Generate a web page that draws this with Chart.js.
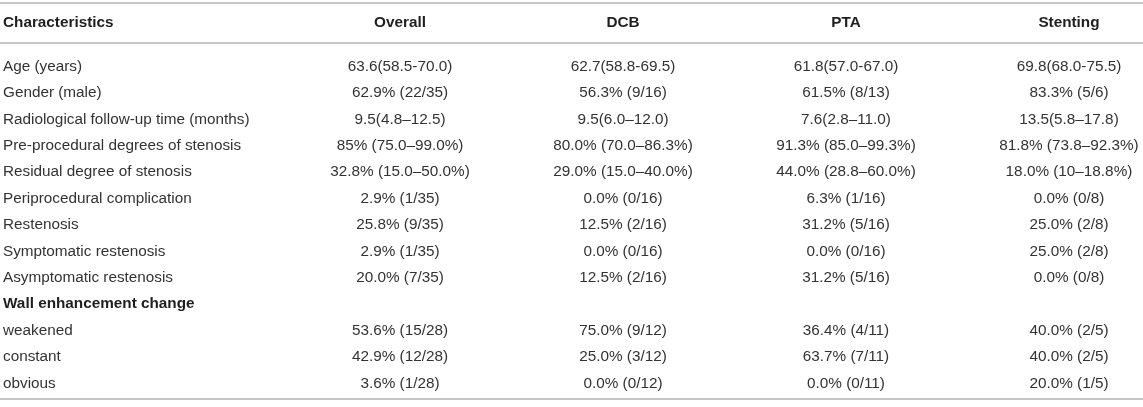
<!DOCTYPE html>
<html lang="en">
<head>
    <meta charset="UTF-8">
    <title>Characteristics table</title>
    <script src="https://cdn.jsdelivr.net/npm/chart.js"></script>
    <style>
        html, body { margin: 0; padding: 0; background: #fff; }
        #wrap { width: 1143px; height: 407px; }
    </style>
</head>
<body>
    <div id="wrap"><canvas id="tableChart"></canvas></div>

    <script>
        // column headers and row labels
        const columns = ['Characteristics', 'Overall', 'DCB', 'PTA', 'Stenting'];
        const rowLabels = [
            'Age (years)',
            'Gender (male)',
            'Radiological follow-up time (months)',
            'Pre-procedural degrees of stenosis',
            'Residual degree of stenosis',
            'Periprocedural complication',
            'Restenosis',
            'Symptomatic restenosis',
            'Asymptomatic restenosis',
            'Wall enhancement change',
            'weakened',
            'constant',
            'obvious'
        ];
        const boldRows = ['Wall enhancement change'];

        // cell values per group
        const overall = ['63.6(58.5-70.0)', '62.9% (22/35)', '9.5(4.8–12.5)', '85% (75.0–99.0%)', '32.8% (15.0–50.0%)',
            '2.9% (1/35)', '25.8% (9/35)', '2.9% (1/35)', '20.0% (7/35)', '', '53.6% (15/28)', '42.9% (12/28)', '3.6% (1/28)'];
        const dcb = ['62.7(58.8-69.5)', '56.3% (9/16)', '9.5(6.0–12.0)', '80.0% (70.0–86.3%)', '29.0% (15.0–40.0%)',
            '0.0% (0/16)', '12.5% (2/16)', '0.0% (0/16)', '12.5% (2/16)', '', '75.0% (9/12)', '25.0% (3/12)', '0.0% (0/12)'];
        const pta = ['61.8(57.0-67.0)', '61.5% (8/13)', '7.6(2.8–11.0)', '91.3% (85.0–99.3%)', '44.0% (28.8–60.0%)',
            '6.3% (1/16)', '31.2% (5/16)', '0.0% (0/16)', '31.2% (5/16)', '', '36.4% (4/11)', '63.7% (7/11)', '0.0% (0/11)'];
        const stenting = ['69.8(68.0-75.5)', '83.3% (5/6)', '13.5(5.8–17.8)', '81.8% (73.8–92.3%)', '18.0% (10–18.8%)',
            '0.0% (0/8)', '25.0% (2/8)', '25.0% (2/8)', '0.0% (0/8)', '', '40.0% (2/5)', '40.0% (2/5)', '20.0% (1/5)'];

        const groups = [rowLabels, overall, dcb, pta, stenting];

        // one point per cell; header sits above row 0
        const cells = [];
        columns.forEach((c, ci) => cells.push({ x: ci, y: -1.648, text: c, bold: true }));
        groups.forEach((col, ci) => {
            col.forEach((t, ri) => {
                if (t !== '') cells.push({ x: ci, y: ri, text: t, bold: ci === 0 && boldRows.includes(t) });
            });
        });

        const FONT = '"Liberation Sans", Arial, Helvetica, sans-serif';

        // draws cell text and rules using the chart scales
        const tablePlugin = {
            id: 'tablePlugin',
            afterDatasetsDraw(chart) {
                const ctx = chart.ctx;
                const xs = chart.scales.x;
                const ys = chart.scales.y;
                const area = chart.chartArea;

                ctx.save();
                ctx.strokeStyle = '#b3b3b3';
                ctx.lineWidth = 1.6;
                [-2.405, -0.89, 12.595].forEach(v => {
                    const y = ys.getPixelForValue(v);
                    ctx.beginPath();
                    ctx.moveTo(area.left, y);
                    ctx.lineTo(area.right, y);
                    ctx.stroke();
                });

                ctx.textBaseline = 'middle';
                chart.data.datasets[0].data.forEach(d => {
                    ctx.font = (d.bold ? 'bold ' : '') + '15.3px ' + FONT;
                    ctx.fillStyle = d.bold ? '#1f1f1f' : '#333333';
                    const y = ys.getPixelForValue(d.y);
                    if (d.x === 0) {
                        ctx.textAlign = 'left';
                        ctx.fillText(d.text, area.left + 3, y);
                    } else {
                        ctx.textAlign = 'center';
                        ctx.fillText(d.text, xs.getPixelForValue(d.x), y);
                    }
                });
                ctx.restore();
            }
        };

        new Chart(document.getElementById('tableChart'), {
            type: 'scatter',
            data: {
                datasets: [{
                    data: cells,
                    pointRadius: 0,
                    pointHoverRadius: 0
                }]
            },
            options: {
                responsive: true,
                maintainAspectRatio: false,
                animation: false,
                layout: { padding: 0 },
                plugins: { legend: { display: false }, tooltip: { enabled: false } },
                scales: {
                    x: { type: 'linear', display: false, min: -0.794, max: 4.332 },
                    y: { type: 'linear', display: false, reverse: true, min: -2.519, max: 12.898 }
                }
            },
            plugins: [tablePlugin]
        });
    </script>
</body>
</html>
